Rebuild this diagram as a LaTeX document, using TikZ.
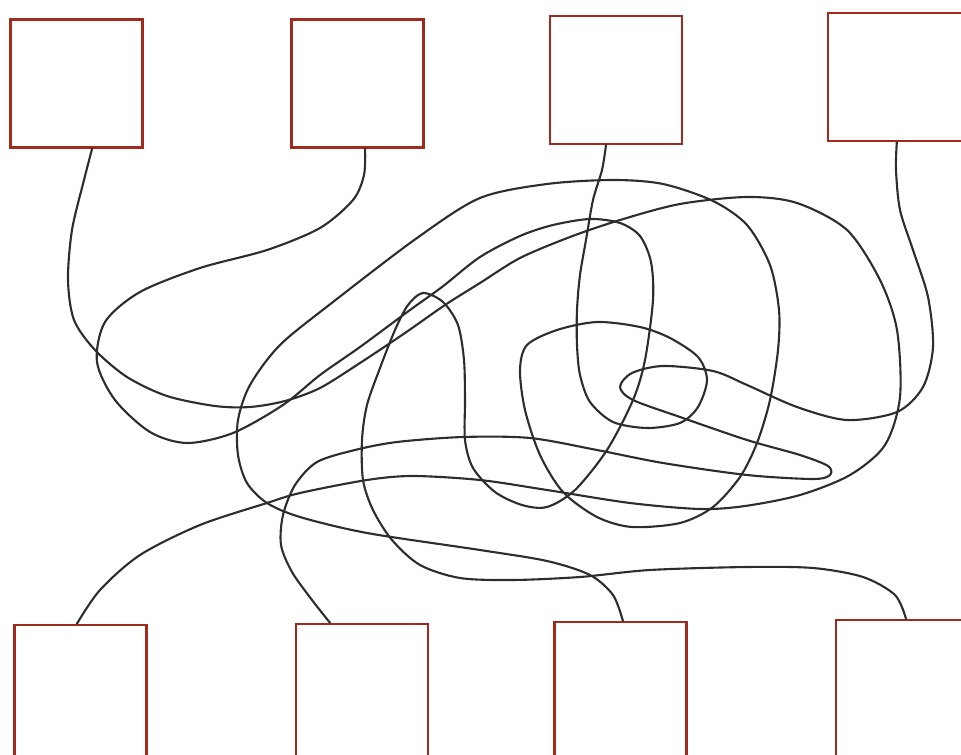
\documentclass[tikz,border=0pt]{standalone}
\usepackage{xcolor}
\definecolor{boxred}{RGB}{160,42,28}
\definecolor{wiregray}{RGB}{45,45,45}
\usetikzlibrary{calc}

\begin{document}
\begin{tikzpicture}[x=0.025cm,y=-0.025cm,
  box/.style={draw=boxred,line width=1.7pt,minimum width=3.3cm,minimum height=3.2cm,inner sep=0pt},
  wire/.style={draw=wiregray,line width=1.5pt,line cap=round,line join=round}]
  \useasboundingbox (0,0) rectangle (961,755);
  \node[box] (t1) at (76.5,83.5) {};
  \node[box] (t2) at (357.5,83.5) {};
  \node[box] (t3) at (616,80) {};
  \node[box,minimum width=3.6cm] (t4) at (900,77) {};
  \node[box,minimum height=3.6cm] (b1) at (80.5,697) {};
  \node[box,minimum height=3.6cm] (b2) at (362,696) {};
  \node[box,minimum height=3.6cm] (b3) at (620.5,694) {};
  \node[box,minimum width=3.6cm,minimum height=3.6cm] (b4) at (908,692) {};
  \draw[wire] plot[smooth] coordinates {([xshift=0.39cm]t1.south) (84,180) (72,230) (68,280) (74,320) (95,350) (127,377) (167,396) (215,406) (250,407) (285,401) (320,388) (360,363) (405,333) (445,305) (480,283) (520,258) (570,237) (620,220) (680,204) (747,197) (797,203) (847,230) (880,280) (897,330) (900,397) (885,445) (850,475) (800,495) (745,506) (700,509) (630,503) (547,490) (480,480) (413,476) (367,480) (300,493) (267,503) (200,525) (140,555) (100,590) ([xshift=-0.09cm]b1.north)};
  \draw[wire] plot[smooth] coordinates {([xshift=0.19cm]t2.south) (364,175) (353,200) (320,228) (267,250) (200,268) (140,292) (105,322) (97,362) (115,400) (150,432) (187,443) (233,433) (283,405) (320,375) (360,347) (410,310) (442,287) (480,257) (520,236) (553,225) (590,219) (620,223) (640,236) (651,262) (653,300) (645,360) (633,400) (607,450) (575,490) (547,507) (522,505) (495,492) (473,468) (465,440) (465,400) (464,360) (458,325) (443,302) (423,293) (408,305) (395,330) (380,368) (367,405) (362,440) (363,480) (373,510) (392,540) (420,565) (460,578) (513,580) (580,577) (650,570) (747,567) (813,568) (863,577) (895,595) ([xshift=-0.05cm]b4.north)};
  \draw[wire] plot[smooth] coordinates {([xshift=-0.25cm]t3.south) (602,170) (593,200) (586,240) (580,275) (577,310) (577,345) (580,375) (590,402) (613,422) (647,428) (680,423) (698,407) (707,380) (698,357) (670,338) (640,327) (597,322) (557,330) (527,345) (520,370) (525,410) (540,455) (563,492) (597,517) (632,527) (680,523) (713,507) (740,477) (757,443) (770,400) (778,350) (779,310) (770,265) (747,225) (713,201) (663,184) (613,180) (547,184) (480,198) (417,238) (333,302) (280,345) (250,385) (238,420) (238,455) (247,483) (267,503) (300,517) (367,533) (480,550) (547,561) (590,575) (613,595) ([xshift=0.06cm]b3.north)};
  \draw[wire] plot[smooth] coordinates {([xshift=-0.08cm]t4.south) (896,170) (900,210) (913,250) (928,297) (933,347) (923,387) (897,412) (847,420) (797,407) (747,385) (713,371) (663,366) (632,373) (620,387) (633,400) (680,417) (747,440) (800,455) (828,466) (830,475) (813,479) (747,475) (663,463) (597,450) (530,438) (463,437) (397,442) (355,450) (317,462) (295,485) (283,515) (281,545) (292,572) (312,600) ([xshift=-0.8cm]b2.north)};
\end{tikzpicture}
\end{document}
